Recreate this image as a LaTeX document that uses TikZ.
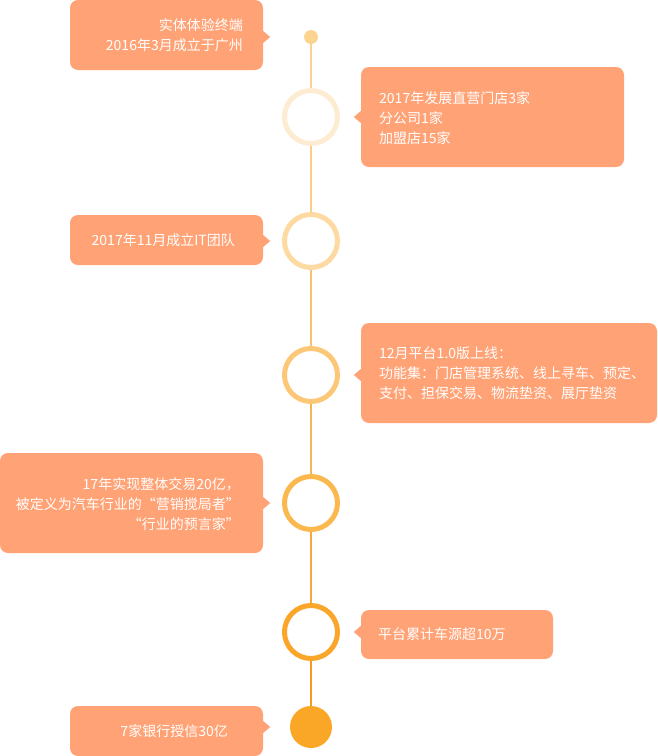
\documentclass[tikz,border=0pt]{standalone}
\usepackage{fontspec}
\setmainfont{Noto Sans CJK SC}
\usetikzlibrary{positioning}
\definecolor{boxfill}{HTML}{FFA275}
\definecolor{ringa}{HTML}{FDECD2}
\definecolor{ringb}{HTML}{FDDAA2}
\definecolor{ringc}{HTML}{FDC778}
\definecolor{ringd}{HTML}{FBB84F}
\definecolor{ringe}{HTML}{F9A62A}
\definecolor{dottop}{HTML}{FBD48F}
\definecolor{dotend}{HTML}{FAA727}

\begin{document}
\begin{tikzpicture}[x=1pt,y=-1pt,
        box/.style={fill=boxfill,rounded corners=8pt,inner sep=0pt},
        txt/.style={text=white,font=\fontsize{14}{20}\selectfont,inner sep=0pt},
        ring/.style={circle,draw=#1,line width=5pt,fill=white,minimum size=53pt,inner sep=0pt},
        dot/.style={circle,fill=#1,inner sep=0pt}]
    \useasboundingbox (0,0) rectangle (658,756);
    % timeline
    \node[dot=dottop,minimum size=14pt] (dot0) at (311,37) {};
    \node[ring=ringa] (c1) at (311,117) {};
    \node[ring=ringb] (c2) at (311,241) {};
    \node[ring=ringc] (c3) at (311,375) {};
    \node[ring=ringd] (c4) at (311,503) {};
    \node[ring=ringe] (c5) at (311,632) {};
    \node[dot=dotend,minimum size=42pt] (dot7) at (311,727) {};
    \draw[line width=2pt,color={rgb,255:red,249;green,212;blue,142}] (dot0) -- (c1);
    \draw[line width=2pt,color={rgb,255:red,249;green,205;blue,134}] (c1) -- (c2);
    \draw[line width=2pt,color={rgb,255:red,248;green,192;blue,112}] (c2) -- (c3);
    \draw[line width=2pt,color={rgb,255:red,247;green,179;blue,90}] (c3) -- (c4);
    \draw[line width=2pt,color={rgb,255:red,246;green,165;blue,63}] (c4) -- (c5);
    \draw[line width=2pt,color={rgb,255:red,244;green,154;blue,37}] (c5) -- (dot7);
    % boxes
    \node[box,minimum width=193pt,minimum height=70pt] (b1) at (166.5,35) {};
    \node[box,minimum width=263pt,minimum height=100pt] (b2) at (492.5,117) {};
    \node[box,minimum width=193pt,minimum height=50pt] (b3) at (166.5,240) {};
    \node[box,minimum width=296pt,minimum height=100pt] (b4) at (509,373) {};
    \node[box,minimum width=263pt,minimum height=100pt] (b5) at (131.5,503) {};
    \node[box,minimum width=192pt,minimum height=49pt] (b6) at (457,634.5) {};
    \node[box,minimum width=193pt,minimum height=50pt] (b7) at (166.5,731) {};
    % pointers
    \foreach \b/\c in {b1/dot0,b3/c2,b5/c4,b7/dot7}
        \fill[boxfill] (\b.east |- \c) ++(0,-6) -- ++(7,6) -- ++(-7,6) -- cycle;
    \foreach \b/\c in {b2/c1,b4/c3,b6/c5}
        \fill[boxfill] (\b.west |- \c) ++(0,-6) -- ++(-7,6) -- ++(7,6) -- cycle;
    % texts
    \node[txt,align=right,anchor=east] (t1) at (243,35) {实体体验终端\\2016年3月成立于广州};
    \node[txt,align=left,anchor=west] (t2) at (379,118) {2017年发展直营门店3家\\分公司1家\\加盟店15家};
    \node[txt,anchor=east] (t3) at (235,240) {2017年11月成立IT团队};
    \node[txt,align=left,anchor=west] (t4) at (379,373) {12月平台1.0版上线：\\功能集：门店管理系统、线上寻车、预定、\\支付、担保交易、物流垫资、展厅垫资};
    \node[txt,align=right,anchor=east] (t5) at (240,504) {17年实现整体交易20亿，\\被定义为汽车行业的“营销搅局者”\\“行业的预言家”};
    \node[txt,anchor=west] (t6) at (378,634) {平台累计车源超10万};
    \node[txt,anchor=east] (t7) at (228,731) {7家银行授信30亿};
\end{tikzpicture}
\end{document}
